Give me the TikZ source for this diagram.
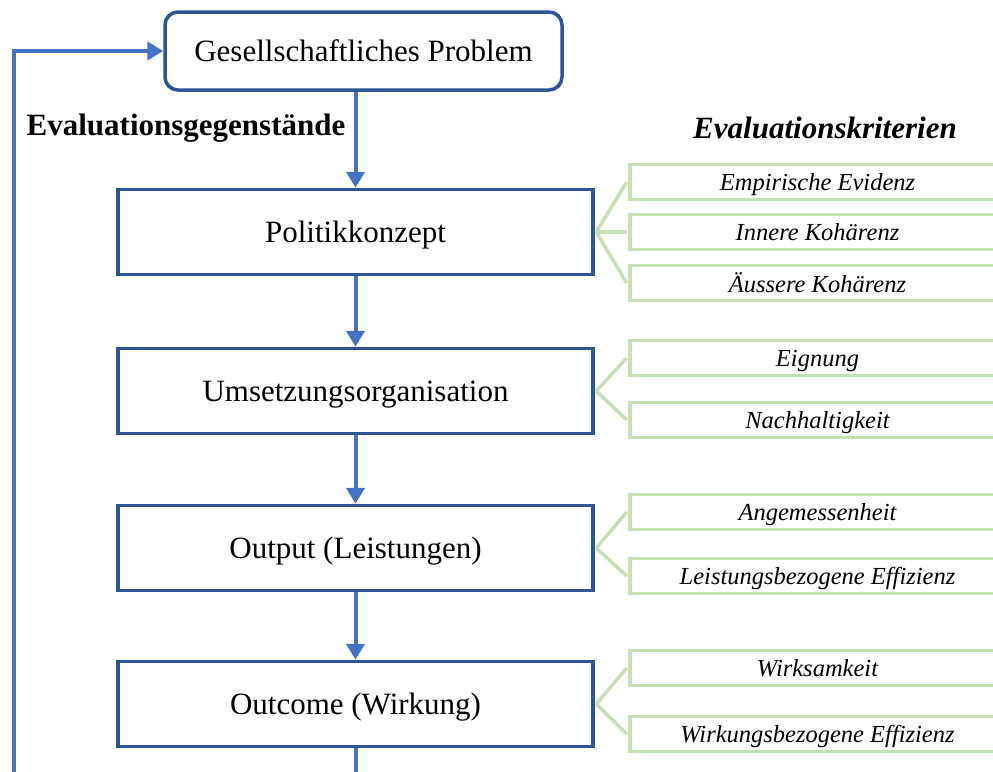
\documentclass[tikz,border=0pt]{standalone}
\usepackage{fontspec}
\setmainfont{Liberation Serif}
\usetikzlibrary{arrows.meta}
\definecolor{boxblue}{HTML}{2F5597}
\definecolor{arrblue}{HTML}{4472C4}
\definecolor{critgreen}{HTML}{C5E0B4}
\begin{document}
\begin{tikzpicture}[x=1pt,y=-1pt,
 objbox/.style={draw=boxblue, line width=3.5pt, minimum width=475pt, minimum height=85pt, inner sep=0pt, text depth=0pt, font=\fontsize{31}{36}\selectfont, fill=white},
 critbox/.style={draw=critgreen, line width=3.5pt, minimum width=375pt, minimum height=35pt, inner sep=0pt, text depth=0pt, font=\fontsize{24.5}{28}\selectfont\itshape, fill=white},
 flow/.style={draw=arrblue, line width=4pt, -{Triangle[length=16pt,width=18pt]}},
 fan/.style={draw=critgreen, line width=3.5pt},
 heading/.style={font=\bfseries\fontsize{31}{36}\selectfont, inner sep=0pt},
]
\useasboundingbox (0,0) rectangle (993,771);

\node[draw=boxblue, line width=3.5pt, rounded corners=13pt, minimum width=397pt, minimum height=78pt, inner sep=0pt, text depth=0pt, font=\fontsize{31}{36}\selectfont, fill=white] (prob) at (363.5,51) {Gesellschaftliches Problem};

\node[heading] (lblL) at (186,128) {Evaluationsgegenstände};
\node[heading, font=\bfseries\itshape\fontsize{31}{36}\selectfont] (lblR) at (825,128) {Evaluationskriterien};

\node[objbox] (pk) at (355.5,232) {Politikkonzept};
\node[objbox] (uo) at (355.5,391) {Umsetzungsorganisation};
\node[objbox] (op) at (355.5,548) {Output (Leistungen)};
\node[objbox] (oc) at (355.5,704) {Outcome (Wirkung)};

\node[critbox] (c1) at (817.5,182) {Empirische Evidenz};
\node[critbox] (c2) at (817.5,232) {Innere Kohärenz};
\node[critbox] (c3) at (817.5,283) {Äussere Kohärenz};
\node[critbox] (c4) at (817.5,358) {Eignung};
\node[critbox] (c5) at (817.5,420) {Nachhaltigkeit};
\node[critbox] (c6) at (817.5,512) {Angemessenheit};
\node[critbox] (c7) at (817.5,576) {Leistungsbezogene Effizienz};
\node[critbox] (c8) at (817.5,668) {Wirksamkeit};
\node[critbox] (c9) at (817.5,734) {Wirkungsbezogene Effizienz};

\foreach \p/\c in {pk/c1,pk/c2,pk/c3,uo/c4,uo/c5,op/c6,op/c7,oc/c8,oc/c9}
  \draw[fan] ([xshift=1.5pt]\p.east) -- ([xshift=-1.5pt]\c.west);

\draw[flow] (pk.north |- prob.south) -- (pk.north);
\draw[flow] (pk.south) -- (uo.north);
\draw[flow] (uo.south) -- (op.north);
\draw[flow] (op.south) -- (oc.north);

\coordinate (loopB) at (14,776);
\draw[flow] (oc.south) |- (loopB) |- (prob.west);
\end{tikzpicture}
\end{document}
